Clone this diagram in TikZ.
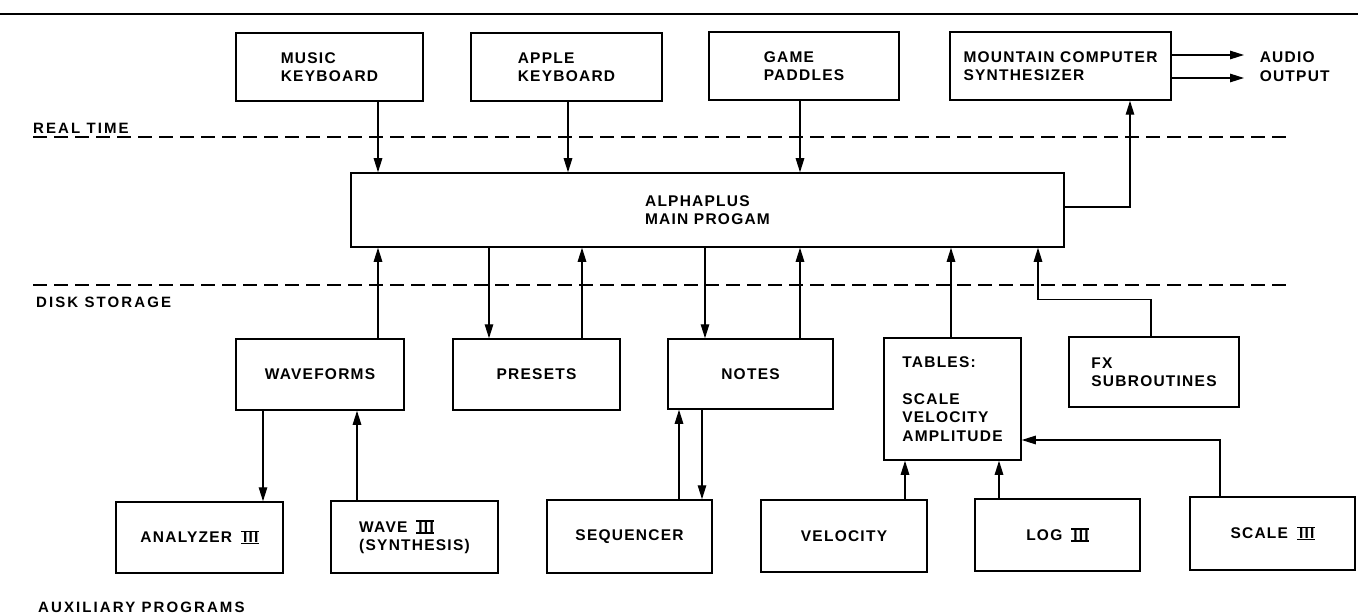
\documentclass[tikz,border=0pt]{standalone}
\usepackage{fontspec}
\newfontfamily\boxfont{Liberation Sans}[LetterSpace=8]
\newfontfamily\labelfont{Liberation Sans}[LetterSpace=14]
\usetikzlibrary{arrows.meta, positioning}

% roman three with bars above and below
\newsavebox\threebox
\newcommand{\three}{\hspace{11pt}\sbox\threebox{III}%
  \rlap{\hspace{-2pt}\rule[-1.4pt]{\dimexpr\wd\threebox+2.5pt\relax}{1.5pt}}%
  \rlap{\hspace{-2pt}\rule[10.6pt]{\dimexpr\wd\threebox+2.5pt\relax}{1.5pt}}%
  \usebox\threebox}

\begin{document}
\begin{tikzpicture}[
  x=1pt, y=-1pt,
  box/.style={draw, line width=1.5pt, align=left, inner sep=0pt,
    font=\boxfont\bfseries\fontsize{15.5}{18.5}\selectfont},
  zone/.style={anchor=base west, inner sep=0pt,
    font=\labelfont\bfseries\fontsize{15}{18}\selectfont},
  divider/.style={line width=1.2pt, dash pattern=on 14pt off 7pt},
  arrow/.style={-{Triangle[length=14pt, width=8.5pt]}, line width=1.3pt}
]
  \useasboundingbox (0,0) rectangle (1358,615);
  \draw[line width=2pt] (0,14) -- (1358,14);

  % real time inputs
  \node[box, minimum width=187, minimum height=68] (music) at (329.5,67) {MUSIC\\KEYBOARD};
  \node[box, minimum width=191, minimum height=68] (apple) at (566.5,67) {APPLE\\KEYBOARD};
  \node[box, minimum width=190, minimum height=68] (game) at (804,66) {GAME\\PADDLES};
  \node[box, minimum width=221, minimum height=68] (synth) at (1060.5,66) {MOUNTAIN COMPUTER\\SYNTHESIZER};
  \node[box, draw=none, anchor=west] (audio) at (1259,66.5) {AUDIO\\OUTPUT};
  \coordinate (out) at (1244,66);

  \node[box, minimum width=713, minimum height=74] (prog) at (707.5,210) {ALPHAPLUS\\MAIN PROGAM};

  % disk storage
  \node[box, minimum width=168, minimum height=71] (waveforms) at (320,374.5) {WAVEFORMS};
  \node[box, minimum width=167, minimum height=71] (presets) at (536.5,374.5) {PRESETS};
  \node[box, minimum width=165, minimum height=70] (notes) at (750.5,374) {NOTES};
  \node[box, minimum width=137, minimum height=122] (tables) at (952.5,399)
    {TABLES:\\[18.5pt]SCALE\\VELOCITY\\AMPLITUDE};
  \node[box, minimum width=170, minimum height=70] (fx) at (1154,372) {FX\\SUBROUTINES};

  % auxiliary programs
  \node[box, minimum width=167, minimum height=71] (analyzer) at (199.5,537.5) {ANALYZER\three};
  \node[box, minimum width=167, minimum height=72] (wavesyn) at (414.5,537) {WAVE\three\\(SYNTHESIS)};
  \node[box, minimum width=165, minimum height=73] (seq) at (629.5,536.5) {SEQUENCER};
  \node[box, minimum width=166, minimum height=72] (velocity) at (844,536) {VELOCITY};
  \node[box, minimum width=165, minimum height=72] (log) at (1057.5,535) {LOG\three};
  \node[box, minimum width=165, minimum height=73] (scale) at (1272.5,533.5) {SCALE\three};

  % zone lines
  \node[zone] (realtime) at (33,133.5) {REAL TIME};
  \node[zone] (disk) at (36,307.5) {DISK STORAGE};
  \node[zone] (aux) at (38,612) {AUXILIARY PROGRAMS};
  \draw[divider] (33,137) -- (1288,137);
  \draw[divider] (33,285) -- (1288,285);

  % connectors
  \draw[arrow] ([xshift=48.5pt]music.south) -- ([xshift=48.5pt]music.south |- prog.north);
  \draw[arrow] ([xshift=1.5pt]apple.south) -- ([xshift=1.5pt]apple.south |- prog.north);
  \draw[arrow] ([xshift=-4pt]game.south) -- ([xshift=-4pt]game.south |- prog.north);
  \draw[arrow] ([yshift=3pt]prog.east) -| ([xshift=69.5pt]synth.south);
  \draw[arrow] ([yshift=11pt]synth.east) -- ([yshift=11pt]synth.east -| out);
  \draw[arrow] ([yshift=-12pt]synth.east) -- ([yshift=-12pt]synth.east -| out);

  \draw[arrow] ([xshift=58pt]waveforms.north) -- ([xshift=58pt]waveforms.north |- prog.south);
  \draw[arrow] ([xshift=-47.5pt]presets.north |- prog.south) -- ([xshift=-47.5pt]presets.north);
  \draw[arrow] ([xshift=45.5pt]presets.north) -- ([xshift=45.5pt]presets.north |- prog.south);
  \draw[arrow] ([xshift=-45.5pt]notes.north |- prog.south) -- ([xshift=-45.5pt]notes.north);
  \draw[arrow] ([xshift=49.5pt]notes.north) -- ([xshift=49.5pt]notes.north |- prog.south);
  \draw[arrow] ([xshift=-1.5pt]tables.north) -- ([xshift=-1.5pt]tables.north |- prog.south);
  \draw[arrow] ([xshift=-3pt]fx.north) -- ++(0,-37) -| ([xshift=330.5pt]prog.south);

  \draw[arrow] ([xshift=-57pt]waveforms.south) -- ([xshift=-57pt]waveforms.south |- analyzer.north);
  \draw[arrow] ([xshift=37pt]waveforms.south |- wavesyn.north) -- ([xshift=37pt]waveforms.south);
  \draw[arrow] ([xshift=-71.5pt]notes.south |- seq.north) -- ([xshift=-71.5pt]notes.south);
  \draw[arrow] ([xshift=-48.5pt]notes.south) -- ([xshift=-48.5pt]notes.south |- seq.north);
  \draw[arrow] ([xshift=-47.5pt]tables.south |- velocity.north) -- ([xshift=-47.5pt]tables.south);
  \draw[arrow] ([xshift=46.5pt]tables.south |- log.north) -- ([xshift=46.5pt]tables.south);
  \draw[arrow] ([xshift=-52.5pt]scale.north) |- ([yshift=-41pt]tables.east);
\end{tikzpicture}
\end{document}
